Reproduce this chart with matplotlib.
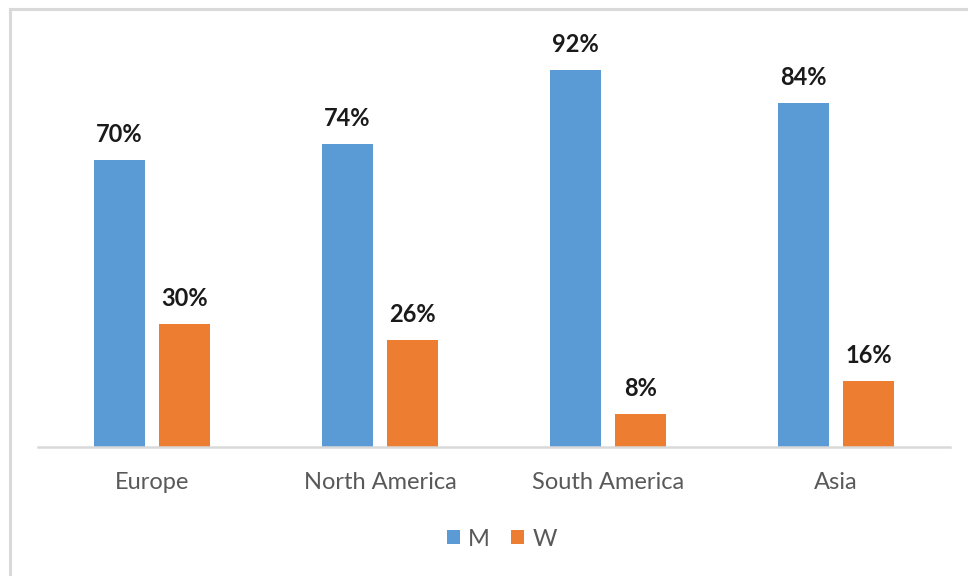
import matplotlib
matplotlib.use("Agg")
import matplotlib.pyplot as plt
from matplotlib.patches import Rectangle
import numpy as np

regions = ["Europe", "North America", "South America", "Asia"]
men = [70, 74, 92, 84]
women = [30, 26, 8, 16]

BLUE = "#5b9bd5"
ORANGE = "#ed7d31"
GRID = "#d9d9d9"
TEXT_GRAY = "#595959"

plt.rcParams["font.family"] = ["Lato", "DejaVu Sans"]

fig = plt.figure(figsize=(9.68, 5.76), dpi=100)
ax = fig.add_axes([38 / 968, 1 - 447 / 576, 912 / 968, 410 / 576])

x = np.arange(len(regions))
w = 0.224
off = 0.143
bm = ax.bar(x - off, men, w, color=BLUE, label="M", zorder=2)
bw = ax.bar(x + off, women, w, color=ORANGE, label="W", zorder=2)

for bars, vals in ((bm, men), (bw, women)):
    for bar, v in zip(bars, vals):
        ax.annotate(f"{v}%", (bar.get_x() + bar.get_width() / 2, v),
                    xytext=(0, 13), textcoords="offset points",
                    ha="center", va="baseline", fontsize=17,
                    fontweight="bold", color="#1a1a1a")

ax.set_xlim(-0.5, len(regions) - 0.5)
ax.set_ylim(0, 100)
ax.set_yticks([])
ax.set_xticks(x)
ax.set_xticklabels(regions, fontsize=17, color=TEXT_GRAY)
ax.tick_params(axis="x", length=0, pad=18)
for s in ("top", "right", "left"):
    ax.spines[s].set_visible(False)
ax.spines["bottom"].set_color(GRID)
ax.spines["bottom"].set_linewidth(1.8)

ax.legend(loc="center", bbox_to_anchor=(502 / 968, 1 - 539 / 576), bbox_transform=fig.transFigure,
          ncol=2, frameon=False, fontsize=17, labelcolor=TEXT_GRAY,
          handlelength=0.55, handleheight=0.55, handletextpad=0.35, columnspacing=0.9)

# chart area border (only top and left edges show in the crop)
fig.patches.append(Rectangle((10 / 968, -0.1), 1.2, 1.1 - 9 / 576, transform=fig.transFigure,
                             fill=False, edgecolor=GRID, linewidth=2.2, zorder=0))

fig.savefig("out.png", dpi=100)
